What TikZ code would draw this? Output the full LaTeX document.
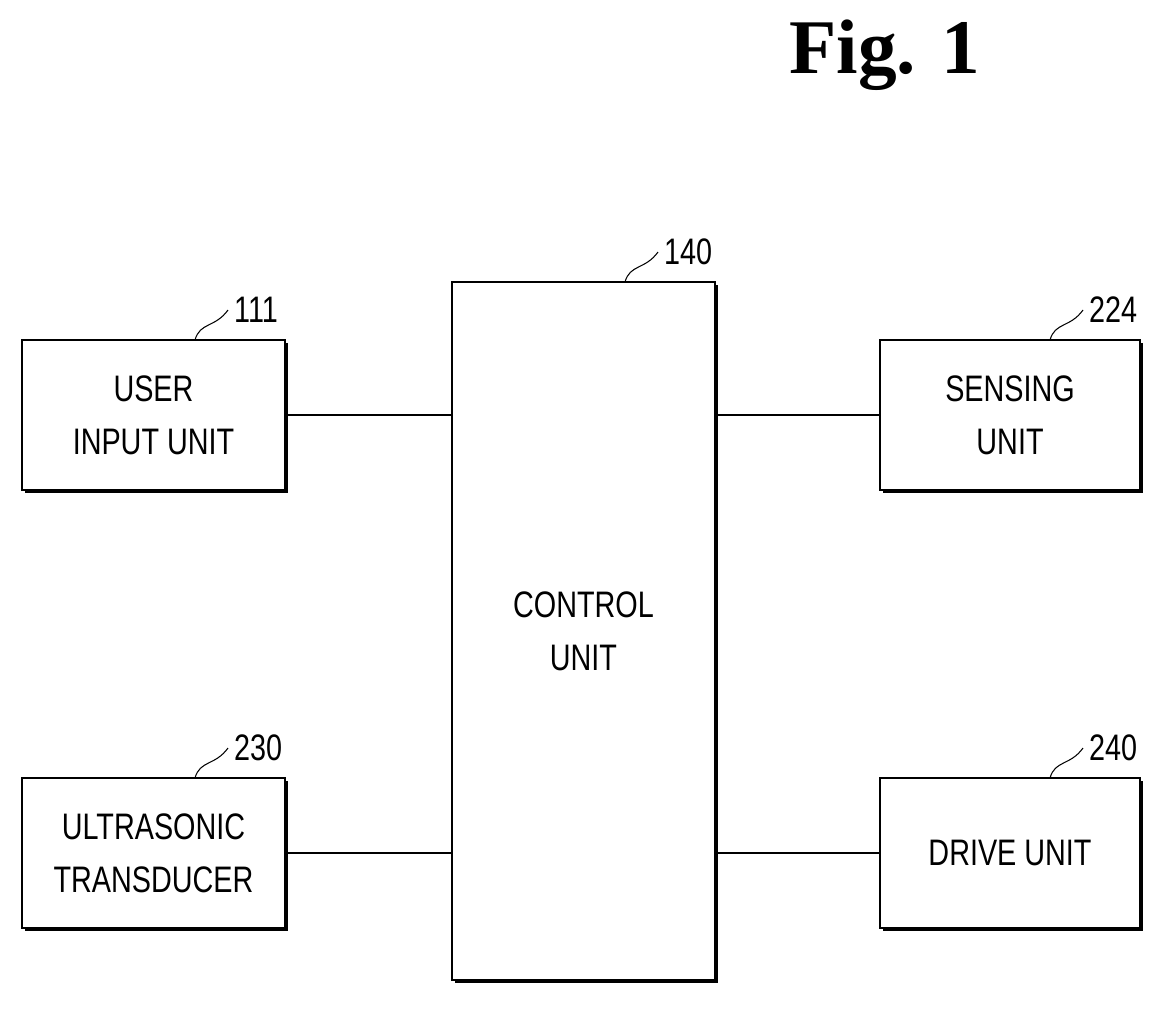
\documentclass[tikz,border=0pt]{standalone}
\usepackage{fontspec}
\setmainfont{Liberation Serif}
\newfontfamily\boxfont[FakeStretch=0.78]{Liberation Sans}
\begin{document}
\begin{tikzpicture}[x=0.02cm, y=-0.02cm,
  unit/.style={draw, line width=0.9pt, align=center, inner sep=0pt,
    font=\boxfont\fontsize{21}{30}\selectfont,
    double copy shadow={shadow xshift=1.2pt, shadow yshift=-1.2pt, draw=none, fill=black}},
  plain/.style={draw, line width=0.9pt, fill=white, align=center, inner sep=0pt,
    font=\boxfont\fontsize{21}{30}\selectfont},
  ref/.style={font=\boxfont\fontsize{21}{24}\selectfont, anchor=west},
  link/.style={line width=0.7pt}]
\useasboundingbox (0,0) rectangle (1172,1009);
\node[font=\bfseries\fontsize{44}{50}\selectfont] (title) at (885,55) {Fig. 1};
% shadows
\foreach \a/\b/\c/\d in {22/340/285/490, 880/340/1140/490, 22/778/285/928, 880/778/1140/928, 452/282/715/980}
  \fill (\a+3,\b+3) rectangle (\c+3,\d+3);
\node[plain, minimum width=263*0.02cm, minimum height=150*0.02cm] (user) at (153.5,415) {USER\\INPUT UNIT};
\node[plain, minimum width=260*0.02cm, minimum height=150*0.02cm] (sense) at (1010,415) {SENSING\\UNIT};
\node[plain, minimum width=263*0.02cm, minimum height=150*0.02cm] (ultra) at (153.5,853) {ULTRASONIC\\TRANSDUCER};
\node[plain, minimum width=260*0.02cm, minimum height=150*0.02cm] (drive) at (1010,853) {DRIVE UNIT};
\node[plain, minimum width=263*0.02cm, minimum height=698*0.02cm] (ctrl) at (583.5,631) {CONTROL\\UNIT};
% connectors
\draw[link] (user.east) -- (ctrl.west |- user.east);
\draw[link] (ultra.east) -- (ctrl.west |- ultra.east);
\draw[link] (ctrl.east |- sense.west) -- (sense.west);
\draw[link] (ctrl.east |- drive.west) -- (drive.west);
% reference numerals
\foreach \n/\x/\y/\t in {r111/195/340/111, r140/625/282/140, r224/1050/340/224, r230/195/778/230, r240/1050/778/240} {
  \node[ref] (\n) at (\x+33,\y-30) {\t};
  \draw[line width=0.6pt] (\x,\y) .. controls (\x+5,\y-18) and (\x+20,\y-12) .. (\n.west);
}
\end{tikzpicture}
\end{document}
